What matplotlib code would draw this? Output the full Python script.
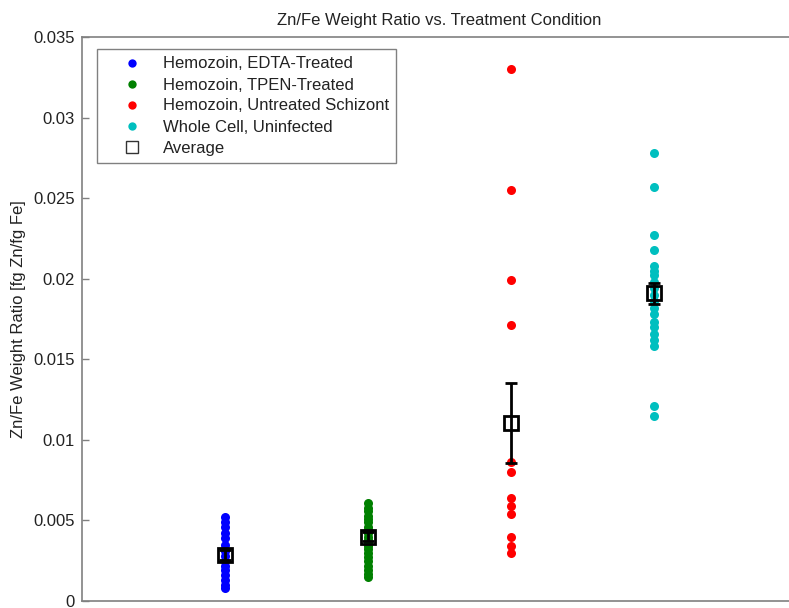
import matplotlib
matplotlib.use('Agg')
from matplotlib import pyplot as plt
from matplotlib.lines import Line2D
import numpy as np

plt.rcParams['font.family'] = ['Liberation Sans', 'DejaVu Sans']

labels = ['Hemozoin, EDTA-Treated', 'Hemozoin, TPEN-Treated',
          'Hemozoin, Untreated Schizont', 'Whole Cell, Uninfected']
colors = ['#0000ff', '#008000', '#ff0000', '#00bfbf']
positions = [1, 2, 3, 4]

edta = [0.0052, 0.0049, 0.0046, 0.0042, 0.0039, 0.0035, 0.0031, 0.0028,
        0.0025, 0.0022, 0.0019, 0.0016, 0.0013, 0.0010, 0.0008]
tpen = [0.0061, 0.0058, 0.0056, 0.0053, 0.0051, 0.0049, 0.0046, 0.0044,
        0.0042, 0.0040, 0.0038, 0.0036, 0.0034, 0.0032, 0.0030, 0.0027,
        0.0025, 0.0022, 0.0019, 0.0017, 0.0015]
untreated = [0.0330, 0.0255, 0.0199, 0.0171, 0.0086, 0.0080, 0.0064,
             0.0059, 0.0054, 0.0040, 0.0034, 0.0030]
whole_cell = [0.0278, 0.0257, 0.0227, 0.0218, 0.0208, 0.0205, 0.0202,
              0.0198, 0.0194, 0.0190, 0.0186, 0.0182, 0.0178, 0.0173,
              0.0170, 0.0166, 0.0162, 0.0158, 0.0121, 0.0115]
groups = [edta, tpen, untreated, whole_cell]

averages = [0.00287, 0.00400, 0.01105, 0.01910]
errors = [0.0003, 0.0003, 0.00248, 0.00065]

yticks = [0, 0.005, 0.01, 0.015, 0.02, 0.025, 0.03, 0.035]
ytick_labels = ['0', '0.005', '0.01', '0.015', '0.02', '0.025', '0.03', '0.035']

fs = 12

fig = plt.figure(figsize=(7.89, 6.08), dpi=100)
ax = fig.add_axes([82 / 789, 7 / 608, 715 / 789, 564 / 608])

for x, vals, c, lab in zip(positions, groups, colors, labels):
    ax.plot([x] * len(vals), vals, 'o', color=c, ms=6.5, mew=0, label=lab)

ax.errorbar(positions, averages, yerr=errors, fmt='s', color='black',
            mfc='none', mec='black', ms=10.5, mew=2, elinewidth=2,
            capsize=4, capthick=2, zorder=5)

ax.set_xlim(0, 5)
ax.set_ylim(0, 0.035)
ax.set_xticks([])
ax.set_yticks(yticks)
ax.set_yticklabels(ytick_labels)
ax.tick_params(axis='y', direction='in', length=5, width=1, color='#808080',
               labelcolor='#222222', labelsize=fs, right=True, pad=5)
for s in ax.spines.values():
    s.set_color('#808080')
    s.set_linewidth(1.2)

ax.set_title('Zn/Fe Weight Ratio vs. Treatment Condition', fontsize=fs,
             color='#222222', pad=9)
ax.set_ylabel('Zn/Fe Weight Ratio [fg Zn/fg Fe]', fontsize=fs,
              color='#222222', labelpad=5)

handles = [Line2D([], [], ls='none', marker='o', color=c, ms=6, mew=0)
           for c in colors]
handles.append(Line2D([], [], ls='none', marker='s', mfc='white',
                      mec='#333333', ms=8.5, mew=1))
leg = ax.legend(handles, labels + ['Average'], loc='upper left',
                bbox_to_anchor=(97 / 789, 1 - 49 / 608),
                bbox_transform=fig.transFigure, fontsize=fs,
                frameon=True, fancybox=False, borderpad=0.45,
                labelspacing=0.36, handlelength=3.3, handletextpad=0.2,
                borderaxespad=0, framealpha=1)
leg.get_frame().set_edgecolor('#808080')
leg.get_frame().set_linewidth(1)
for t in leg.get_texts():
    t.set_color('#222222')

fig.savefig('out.png', dpi=100)
